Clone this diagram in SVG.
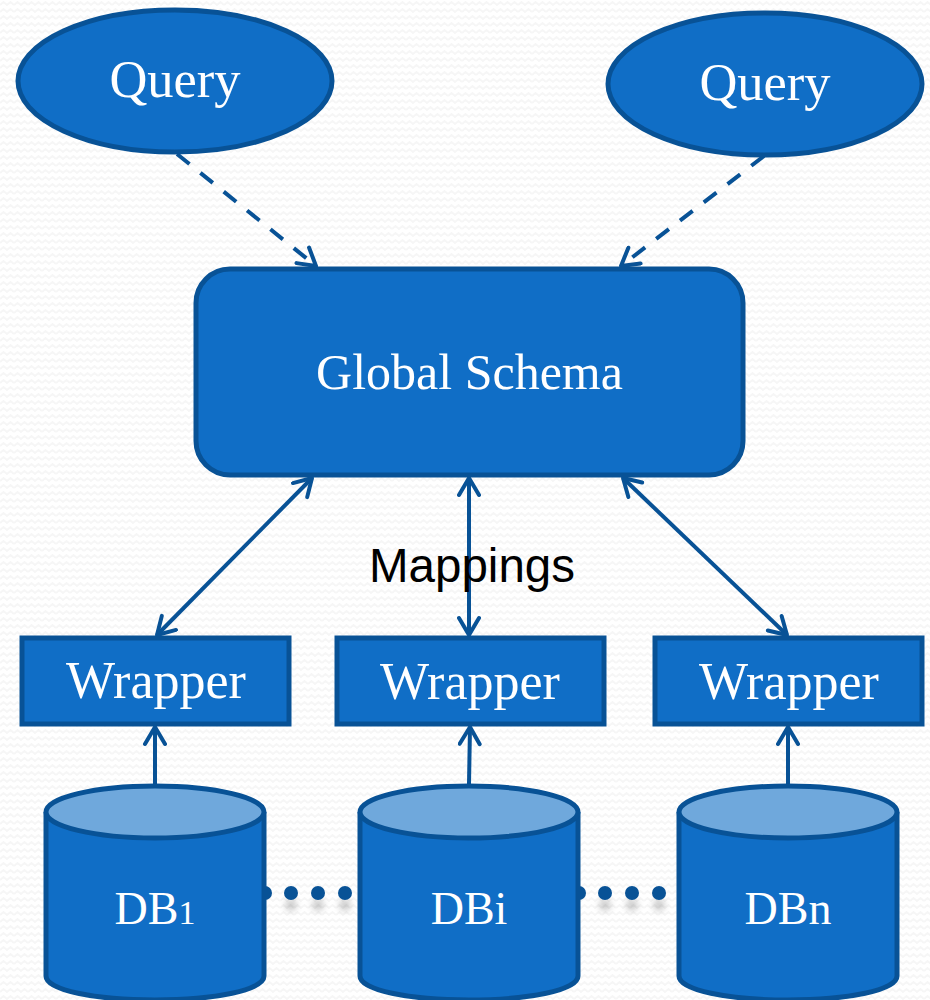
<svg xmlns="http://www.w3.org/2000/svg" width="930" height="1000" viewBox="0 0 930 1000">
<style>
.n{fill:#106ec6;stroke:#085296;stroke-width:5}
.top{fill:#6fa8dc;stroke:#085296;stroke-width:5}
.t{font-family:"Liberation Serif","DejaVu Serif",serif;fill:#fff;text-anchor:middle}
.c{fill:none;stroke:#085296;stroke-width:4}
.h{fill:none;stroke:#085296;stroke-width:4;stroke-linecap:round;stroke-linejoin:round}
.d{fill:#085296}
</style>
<defs>
<pattern id="bg" width="14" height="14" patternUnits="userSpaceOnUse">
<path d="M0 5l3.500 -3 3.500 3 3.500 -3 3.500 3M0 12l3.500 -3 3.500 3 3.500 -3 3.500 3" fill="none" stroke="#f6f6f6" stroke-width="2"/>
</pattern>
<marker id="a" viewBox="-20 -12 24 24" markerWidth="24" markerHeight="24" refX="0" refY="0" orient="auto-start-reverse" markerUnits="userSpaceOnUse">
<path d="M-17 -10L0 0L-17 10" class="h"/>
</marker>
<filter id="s" x="-50%" y="-50%" width="200%" height="250%"><feGaussianBlur stdDeviation="3"/></filter>
</defs>
<rect width="930" height="1000" fill="#fff"/>
<rect width="930" height="1000" fill="url(#bg)"/>
<g id="connectors">
<path class="c" stroke-dasharray="16 14" d="M177 154L316 266" marker-end="url(#a)"/>
<path class="c" stroke-dasharray="16 14" d="M764 156L621 266" marker-end="url(#a)"/>
<path class="c" d="M312 478L157 635" marker-start="url(#a)" marker-end="url(#a)"/>
<path class="c" d="M469 478L469 635" marker-start="url(#a)" marker-end="url(#a)"/>
<path class="c" d="M623 478L787 635" marker-start="url(#a)" marker-end="url(#a)"/>
<path class="c" d="M155 784L155 727" marker-end="url(#a)"/>
<path class="c" d="M469 784L470 727" marker-end="url(#a)"/>
<path class="c" d="M788 784L788 727" marker-end="url(#a)"/>
</g>
<g id="dots">
<g fill="#000" opacity=".2" filter="url(#s)"><circle cx="291" cy="905" r="6"/><circle cx="318" cy="905" r="6"/><circle cx="345" cy="905" r="6"/><circle cx="605" cy="905" r="6"/><circle cx="632" cy="905" r="6"/><circle cx="659" cy="905" r="6"/></g>
<circle class="d" cx="265" cy="893" r="7"/><circle class="d" cx="291" cy="893" r="7"/><circle class="d" cx="318" cy="893" r="7"/><circle class="d" cx="345" cy="893" r="7"/>
<circle class="d" cx="579" cy="893" r="7"/><circle class="d" cx="605" cy="893" r="7"/><circle class="d" cx="632" cy="893" r="7"/><circle class="d" cx="659" cy="893" r="7"/>
</g>
<g id="query1"><ellipse class="n" cx="175" cy="81" rx="157" ry="71"/><text class="t" x="175" y="97" font-size="52.500">Query</text></g>
<g id="query2"><ellipse class="n" cx="765" cy="84" rx="157" ry="71"/><text class="t" x="765" y="100" font-size="52.500">Query</text></g>
<g id="global-schema"><rect class="n" x="196" y="269" width="547" height="206" rx="34"/><text class="t" x="469.500" y="389" font-size="50">Global Schema</text></g>
<g id="wrapper1"><rect class="n" x="22" y="638" width="267" height="86"/><text class="t" x="156" y="698" font-size="52">Wrapper</text></g>
<g id="wrapper2"><rect class="n" x="337" y="638" width="267" height="86"/><text class="t" x="470" y="699" font-size="52">Wrapper</text></g>
<g id="wrapper3"><rect class="n" x="655" y="638" width="267" height="86"/><text class="t" x="789" y="699" font-size="52">Wrapper</text></g>
<g id="db1"><path class="n" d="M46 812V976C46 990 95 1000 155 1000S264 990 264 976V812"/><ellipse class="top" cx="155" cy="812" rx="109" ry="26"/><text class="t" x="155" y="924" font-size="46">DB<tspan font-size="34">1</tspan></text></g>
<g id="dbi"><path class="n" d="M360 812V976C360 990 409 1000 469 1000S578 990 578 976V812"/><ellipse class="top" cx="469" cy="812" rx="109" ry="26"/><text class="t" x="469" y="924" font-size="46">DBi</text></g>
<g id="dbn"><path class="n" d="M679 812V976C679 990 728 1000 788 1000S897 990 897 976V812"/><ellipse class="top" cx="788" cy="812" rx="109" ry="26"/><text class="t" x="788" y="924" font-size="46">DBn</text></g>
<text id="mappings" x="472" y="582" font-family="Liberation Sans,Arial,sans-serif" font-size="47.500" fill="#000" text-anchor="middle">Mappings</text>
</svg>
